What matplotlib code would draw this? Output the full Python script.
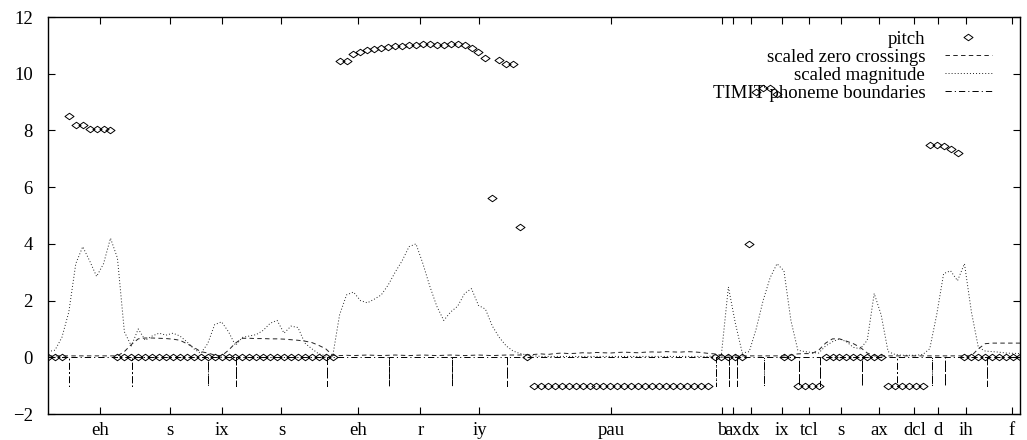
import numpy as np
import matplotlib
matplotlib.use("Agg")
import matplotlib.pyplot as plt
from matplotlib.path import Path

plt.rcParams['font.family'] = ['Liberation Serif', 'DejaVu Serif']
plt.rcParams['font.size'] = 13.5
plt.rcParams['lines.scale_dashes'] = False

# per-frame pitch track (0 = unvoiced, -1 = closure/pause)
pitch = np.array(
    [0, 0, 0] +
    [8.5, 8.2, 8.2, 8.05, 8.05, 8.05, 8.0] +
    [0] * 32 +
    [10.45, 10.45, 10.7, 10.75, 10.82, 10.87, 10.9, 10.93, 10.96, 10.99,
     11.01, 11.03, 11.05, 11.05, 11.03, 11.02, 11.05, 11.05, 11.0, 10.9,
     10.78, 10.55,
     5.6, 10.5, 10.35, 10.35, 4.6, 0] +
    [-1] * 26 +
    [0] * 5 +
    [4.0, 9.35, 9.5, 9.5, 9.3] +
    [0, 0] +
    [-1] * 4 +
    [0] * 9 +
    [-1] * 6 +
    [7.47, 7.47, 7.45, 7.35, 7.22] +
    [0] * 9)

zero_cross = np.array(
    [0.05] * 11 +
    [0.2, 0.45, 0.65, 0.68, 0.68, 0.67, 0.66, 0.64, 0.6, 0.48,
     0.35, 0.2, 0.15, 0.08, 0.05, 0.25, 0.5, 0.67, 0.67, 0.66,
     0.66, 0.65, 0.65, 0.64, 0.62, 0.6, 0.57, 0.52, 0.42, 0.3,
     0.07] +
    [0.06, 0.07, 0.06, 0.07, 0.08, 0.07, 0.06, 0.07, 0.08, 0.07,
     0.06, 0.07, 0.08, 0.07, 0.06, 0.07, 0.08, 0.07, 0.06, 0.07,
     0.08, 0.07, 0.06, 0.07, 0.08, 0.08, 0.08, 0.09] +
    [0.1, 0.12, 0.1, 0.13, 0.15, 0.13, 0.14, 0.16, 0.15, 0.17,
     0.16, 0.15, 0.17, 0.18, 0.17, 0.16, 0.18, 0.19, 0.18, 0.2,
     0.19, 0.18, 0.2, 0.19, 0.17, 0.14] +
    [0.12] + [0.05] * 10 +
    [0.08, 0.12, 0.13, 0.13, 0.25, 0.5, 0.65, 0.65, 0.57, 0.48,
     0.35, 0.15] +
    [0.05] * 15 +
    [0.3, 0.48, 0.5, 0.5, 0.5, 0.5, 0.5])

magnitude = np.array(
    [0.2, 0.25, 0.7, 1.6, 3.3, 3.9, 3.4, 2.85, 3.3, 4.2,
     3.5, 0.9, 0.4, 1.0, 0.6, 0.75, 0.85, 0.78, 0.85, 0.75,
     0.55, 0.3, 0.14, 0.48, 1.15, 1.25, 0.9, 0.42, 0.7, 0.75,
     0.8, 0.95, 1.2, 1.3, 0.85, 1.1, 1.05, 0.5, 0.3, 0.12,
     0.05, 0.03, 1.5, 2.2, 2.3, 2.0, 1.92, 2.05, 2.2, 2.55,
     3.0, 3.4, 3.9, 4.0, 3.3, 2.5, 1.8, 1.3, 1.6, 1.8,
     2.25, 2.42, 1.83, 1.7, 1.1, 0.7, 0.4, 0.22, 0.13, 0.08,
     0.05] +
    [0.03] * 25 +
    [0.05, 0.12, 2.48, 1.2, 0.15, 0.2, 1.0, 2.0, 2.8, 3.3,
     3.05, 1.3, 0.25, 0.2, 0.17, 0.15, 0.4, 0.55, 0.65, 0.55,
     0.35, 0.3, 0.6, 2.25, 1.5, 0.2, 0.1, 0.07, 0.07, 0.07,
     0.1, 0.3, 1.5, 2.95, 3.05, 2.7, 3.3, 1.6, 0.35, 0.22,
     0.2, 0.18, 0.15, 0.14, 0.13])

phonemes = ['eh', 's', 'ix', 's', 'eh', 'r', 'iy', 'pau', 'b', 'ax', 'dx',
            'ix', 'tcl', 's', 'ax', 'dcl', 'd', 'ih', 'f']
# phoneme start frames, last entry is the end of the final phoneme
bounds = np.array([3.02, 12.10, 23.04, 27.08, 40.18, 49.11, 58.19, 66.11,
                   96.21, 98.08, 99.24, 103.13, 108.17, 111.19, 117.24,
                   122.28, 127.32, 129.20, 135.24, 142.45])

frames = np.arange(len(pitch))
centers = (bounds[:-1] + bounds[1:]) / 2

# boundary trace: flat at 0 with a drop to -1 at every boundary
bx = np.concatenate([[frames[0]], np.repeat(bounds, 3), [frames[-1]]])
by = np.concatenate([[0], np.tile([0, -1, 0], len(bounds)), [0]])

# open diamond, wider than tall
diamond = Path([(-1, 0), (0, 0.72), (1, 0), (0, -0.72), (-1, 0)],
               [Path.MOVETO, Path.LINETO, Path.LINETO, Path.LINETO,
                Path.CLOSEPOLY])

fig = plt.figure(figsize=(10.27, 4.4), dpi=100)
ax = fig.add_axes([48 / 1027, 26 / 440, 972 / 1027, 397 / 440])

ax.plot(frames, pitch, ls='none', marker=diamond, ms=6.5, mfc='none',
        mec='black', mew=0.7, label='pitch')
ax.plot(frames, zero_cross, color='#222222', lw=0.7, ls=(0, (3.2, 2.4)),
        label='scaled zero crossings')
ax.plot(frames, magnitude, color='#222222', lw=0.7, ls=(0, (0.7, 1.5)),
        label='scaled magnitude')
ax.plot(bx, by, color='black', lw=0.7, ls=(0, (4.5, 2.2, 0.8, 2.2)),
        label='TIMIT phoneme boundaries')

ax.set_xlim(0, frames[-1])
ax.set_ylim(-2, 12)
ax.set_yticks(np.arange(-2, 13, 2))
ax.set_xticks(centers)
ax.set_xticklabels(phonemes)
ax.tick_params(direction='in', top=True, right=True, length=5, width=0.8)
ax.tick_params(axis='y', pad=11)
ax.tick_params(axis='x', pad=6)
for s in ax.spines.values():
    s.set_linewidth(1.0)

ax.legend(loc='upper right', bbox_to_anchor=(0.971, 0.966), frameon=False,
          markerfirst=False, numpoints=1, handlelength=2.5,
          handletextpad=1.05, labelspacing=0.05, borderpad=0,
          borderaxespad=0, fontsize=13.5)

fig.savefig('out.png', dpi=100)
